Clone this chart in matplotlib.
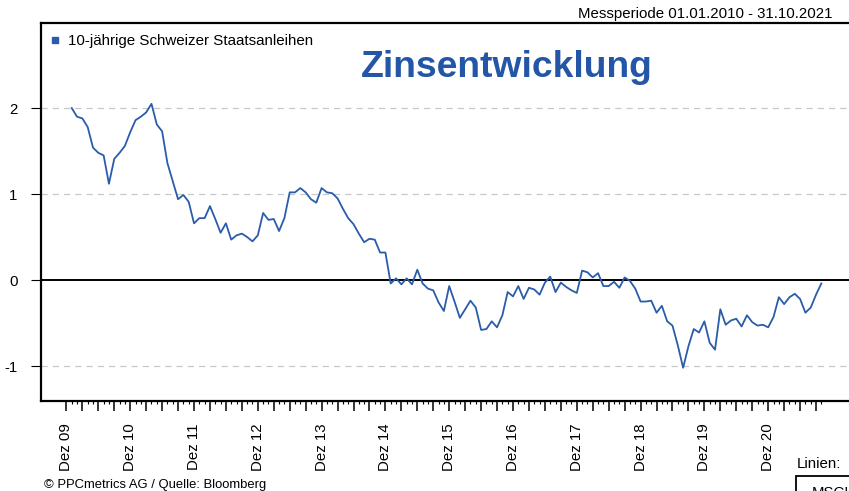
import numpy as np
import matplotlib
matplotlib.use('Agg')
import matplotlib.pyplot as plt
from matplotlib.lines import Line2D
from matplotlib.patches import Rectangle

plt.rcParams['font.family'] = ['Liberation Sans', 'DejaVu Sans']

# monatliche Rendite 10-jaehrige Eidgenossen, Jan 2010 - Okt 2021 (in %)
yields = [
    2.00, 1.90, 1.88, 1.78, 1.54, 1.48, 1.45, 1.12, 1.41, 1.48, 1.56, 1.72,      # 2010
    1.86, 1.90, 1.95, 2.05, 1.81, 1.73, 1.36, 1.15, 0.94, 0.99, 0.91, 0.66,      # 2011
    0.72, 0.72, 0.86, 0.71, 0.55, 0.66, 0.47, 0.52, 0.54, 0.50, 0.45, 0.52,      # 2012
    0.78, 0.70, 0.71, 0.57, 0.72, 1.02, 1.02, 1.07, 1.02, 0.94, 0.90, 1.07,      # 2013
    1.02, 1.01, 0.95, 0.83, 0.72, 0.65, 0.54, 0.44, 0.48, 0.47, 0.32, 0.32,      # 2014
    -0.04, 0.02, -0.05, 0.02, -0.05, 0.12, -0.04, -0.10, -0.12, -0.26, -0.36, -0.07,  # 2015
    -0.25, -0.44, -0.34, -0.24, -0.32, -0.58, -0.57, -0.48, -0.55, -0.41, -0.14, -0.19,  # 2016
    -0.07, -0.22, -0.09, -0.11, -0.17, -0.03, 0.04, -0.14, -0.03, -0.08, -0.12, -0.15,   # 2017
    0.11, 0.09, 0.03, 0.08, -0.07, -0.07, -0.02, -0.09, 0.03, -0.01, -0.10, -0.25,      # 2018
    -0.25, -0.24, -0.38, -0.30, -0.48, -0.53, -0.76, -1.02, -0.77, -0.57, -0.61, -0.48,  # 2019
    -0.73, -0.81, -0.34, -0.52, -0.47, -0.45, -0.54, -0.41, -0.49, -0.53, -0.52, -0.55,  # 2020
    -0.43, -0.20, -0.28, -0.20, -0.16, -0.22, -0.38, -0.32, -0.17, -0.04,              # 2021
]
year_labels = ['Dez 09', 'Dez 10', 'Dez 11', 'Dez 12', 'Dez 13', 'Dez 14',
               'Dez 15', 'Dez 16', 'Dez 17', 'Dez 18', 'Dez 19', 'Dez 20']
y_ticks = [-1, 0, 1, 2]

blue = '#2a5caa'

# Monatsindex: 0 = Dez 09
months = np.arange(1, len(yields) + 1)

fig = plt.figure(figsize=(8.49, 4.91), dpi=100)
ax = fig.add_axes([41 / 849, 1 - 401 / 491, 1 - 41 / 849, (401 - 23) / 491])

ax.plot(months, yields, color=blue, lw=1.3, zorder=3)
ax.axhline(0, color='black', lw=1.4, zorder=2)
for v in [-1, 1, 2]:
    ax.axhline(v, color='#c8c8c8', lw=0.9, ls=(0, (5, 4)), zorder=1)

ax.set_xlim(-4.78, 147.2)
ax.set_ylim(-1.407, 2.99)

# x-Achse: Quartalsticks, Beschriftung nur im Dezember
major = np.arange(0, len(yields), 3)
ax.set_xticks(major)
ax.set_xticklabels([year_labels[m // 12] if m % 12 == 0 else '' for m in major],
                   rotation=90, fontsize=10.8)
ax.set_xticks(np.arange(0, len(yields) + 1), minor=True)
ax.tick_params(axis='x', which='major', length=7, width=1.1, pad=9, direction='out')
ax.tick_params(axis='x', which='minor', length=2, width=0.8, direction='out')

ax.set_yticks(y_ticks)
ax.set_yticklabels([str(v) for v in y_ticks], fontsize=10.8)
ax.tick_params(axis='y', length=7, width=0.8, pad=10, direction='out')

for s in ['left', 'top', 'bottom']:
    ax.spines[s].set_linewidth(1.6)
ax.spines['right'].set_visible(False)

handle = Line2D([], [], marker='s', ls='', color=blue, markersize=5)
ax.legend([handle], ['10-jährige Schweizer Staatsanleihen'], loc='upper left',
          bbox_to_anchor=(49 / 849, 1 - 34 / 491), bbox_transform=fig.transFigure,
          frameon=False, fontsize=10.9, handletextpad=0.45, handlelength=0.8,
          borderpad=0, borderaxespad=0)

fig.text(507 / 849, 1 - 77 / 491, 'Zinsentwicklung', ha='center', va='baseline',
         fontsize=26.8, fontweight='bold', color='#2356a6')
fig.text(833 / 849, 1 - 18 / 491, 'Messperiode 01.01.2010 - 31.10.2021',
         ha='right', va='baseline', fontsize=10.8)
fig.text(44 / 849, 1 - 488 / 491, '© PPCmetrics AG / Quelle: Bloomberg',
         ha='left', va='baseline', fontsize=9.4)
fig.text(797 / 849, 1 - 468 / 491, 'Linien:', ha='left', va='baseline', fontsize=10.8)
fig.patches.append(Rectangle((796 / 849, -0.05), 0.2, 1 - 476 / 491 + 0.05,
                             transform=fig.transFigure, fill=False,
                             edgecolor='black', lw=1.3))
fig.text(812 / 849, 1 - 486 / 491, 'MSCI', ha='left', va='top', fontsize=10.8)

fig.savefig('out.png', dpi=100)
